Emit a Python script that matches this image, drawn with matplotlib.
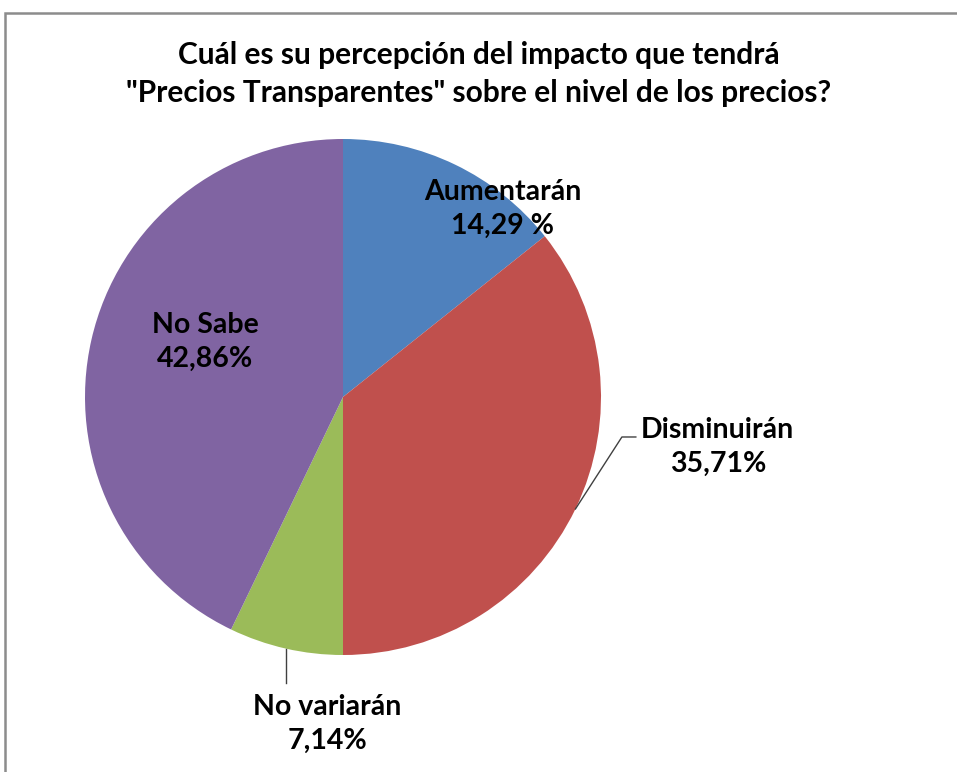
import numpy as np
import matplotlib.pyplot as plt
from matplotlib.patches import Rectangle

categorias = ["Aumentarán", "Disminuirán", "No variarán", "No Sabe"]
valores = [14.29, 35.71, 7.14, 42.86]
etiquetas = ["Aumentarán\n14,29 %", "Disminuirán\n35,71%", "No variarán\n7,14%", "No Sabe\n42,86%"]
colores = ["#4F81BD", "#C0504D", "#9BBB59", "#8064A2"]

titulo = "Cuál es su percepción del impacto que tendrá\n\"Precios Transparentes\" sobre el nivel de los precios?"

plt.rcParams["font.family"] = ["Lato", "DejaVu Sans"]

W, H = 957, 772
fig = plt.figure(figsize=(W / 100, H / 100), dpi=100)

# marco gris
fig.patches.append(Rectangle((5 / W, -0.1), 1.2, (H - 13) / H + 0.1, transform=fig.transFigure,
                             fill=False, edgecolor="#8C8C8C", linewidth=1.8))

fig.text(0.5, 1 - 74 / H, titulo, ha="center", va="center", fontsize=21.5, fontweight="bold",
         linespacing=1.45, color="#000000")

cx, cy, r = 343, 397, 258
ax = fig.add_axes([(cx - r) / W, (H - cy - r) / H, 2 * r / W, 2 * r / H])
wedges, _ = ax.pie(valores, colors=colores, startangle=90, counterclock=False, radius=1)
ax.set_xlim(-1, 1)
ax.set_ylim(-1, 1)
ax.axis("off")

# posiciones de las etiquetas (fijas, como en Excel)
pos = [(0.62, 0.73), (1.453, -0.194), (-0.062, -1.267), (-0.535, 0.213)]
for w, lab, (tx, ty) in zip(wedges, etiquetas, pos):
    ax.text(tx, ty, lab, ha="center", va="center", fontsize=20.5, fontweight="bold",
            linespacing=1.38, clip_on=False)

# lineas guia
def borde(w):
    a = np.deg2rad((w.theta1 + w.theta2) / 2)
    return np.cos(a), np.sin(a)

x0, y0 = borde(wedges[1])
ax.plot([x0, 1.081, 1.135], [y0, -0.155, -0.155], color="#404040", lw=1, clip_on=False)
x0, y0 = borde(wedges[2])
ax.plot([x0, x0], [y0, -1.11], color="#404040", lw=1, clip_on=False)

fig.savefig("out.png", dpi=100)
